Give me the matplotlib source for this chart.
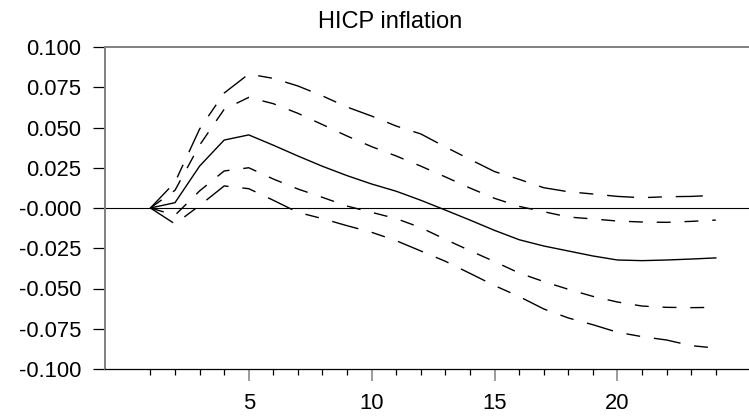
import matplotlib
matplotlib.use("Agg")
import matplotlib.pyplot as plt
from matplotlib.ticker import FixedLocator

plt.rcParams['font.family'] = ['Liberation Sans', 'DejaVu Sans']

horizon = list(range(1, 25))
median = [0.0, 0.0033, 0.026, 0.0422, 0.0454, 0.039, 0.0323, 0.0259, 0.0201, 0.0149,
          0.0104, 0.0048, -0.0013, -0.0075, -0.0139, -0.0197, -0.0236, -0.0267,
          -0.0298, -0.0323, -0.0327, -0.0323, -0.0317, -0.031]
outer_upper = [0.0, 0.016, 0.049, 0.0714, 0.0832, 0.0805, 0.0758, 0.0696, 0.0627, 0.0571,
               0.0509, 0.046, 0.0379, 0.0302, 0.0226, 0.0178, 0.0126, 0.0101,
               0.0087, 0.0072, 0.0064, 0.007, 0.0072, 0.0079]
inner_upper = [0.0, 0.011, 0.039, 0.0613, 0.0687, 0.0648, 0.0588, 0.0518, 0.0447, 0.0381,
               0.0323, 0.026, 0.0193, 0.0124, 0.006, 0.001, -0.0023, -0.0056,
               -0.0068, -0.0081, -0.0087, -0.0089, -0.0083, -0.0075]
inner_lower = [0.0, -0.0045, 0.0106, 0.023, 0.025, 0.018, 0.0118, 0.0066, 0.0012, -0.0027,
               -0.0066, -0.0122, -0.0195, -0.0265, -0.0333, -0.0404, -0.0457, -0.0505,
               -0.0549, -0.0584, -0.0609, -0.0617, -0.0619, -0.0617]
outer_lower = [0.0, -0.0099, 0.0015, 0.0137, 0.012, 0.0048, -0.0027, -0.0066, -0.011, -0.0151,
               -0.0203, -0.0267, -0.0331, -0.0406, -0.0482, -0.055, -0.0627, -0.0683,
               -0.0725, -0.0772, -0.0799, -0.082, -0.0855, -0.087]
y_ticks = [-0.100, -0.075, -0.050, -0.025, 0.000, 0.025, 0.050, 0.075, 0.100]
y_labels = ["-0.100", "-0.075", "-0.050", "-0.025", "-0.000", "0.025", "0.050", "0.075", "0.100"]
x_major = [5, 10, 15, 20]
title = "HICP inflation"

W, H = 749, 416
fig = plt.figure(figsize=(W / 100, H / 100), dpi=100)
ax = fig.add_axes([105 / W, (H - 369) / H, (W - 105) / W, 322 / H])

lw = 1.0
ax.axhline(0, color='black', lw=0.8, zorder=1)
ax.plot(horizon, median, color='black', lw=lw)
ax.plot(horizon, outer_upper, color='black', lw=lw, dashes=(19.5, 10, 10, 10))
ax.plot(horizon, outer_lower, color='black', lw=lw, dashes=(19.5, 10, 10, 10))
ax.plot(horizon, inner_upper, color='black', lw=lw, dashes=(10, 10))
ax.plot(horizon, inner_lower, color='black', lw=lw, dashes=(10, 10))

ax.set_xlim(-0.847, 25.35)
ax.set_ylim(-0.1, 0.1)

ax.spines['right'].set_visible(False)
ax.spines['top'].set_color('#808080')
ax.spines['top'].set_linewidth(1.4)
ax.spines['left'].set_color('#808080')
ax.spines['left'].set_linewidth(1.4)
ax.spines['bottom'].set_color('black')
ax.spines['bottom'].set_linewidth(0.9)

ax.yaxis.set_major_locator(FixedLocator(y_ticks))
ax.set_yticklabels(y_labels)
ax.tick_params(axis='y', direction='out', length=8.6, width=0.9, color='black',
               labelsize=15.8, pad=8.6)

ax.xaxis.set_major_locator(FixedLocator(x_major))
ax.xaxis.set_minor_locator(FixedLocator([h for h in horizon if h not in x_major]))
ax.set_xticklabels([str(v) for v in x_major])
ax.tick_params(axis='x', which='major', direction='out', length=8.6, width=1.1,
               color='#808080', labelsize=15.8, pad=8.5)
ax.tick_params(axis='x', which='minor', direction='out', length=4.3, width=0.9,
               color='black')

fig.text(390 / W, (H - 28.3) / H, title, ha='center', va='baseline', fontsize=17)

fig.savefig("out.png", dpi=100)
